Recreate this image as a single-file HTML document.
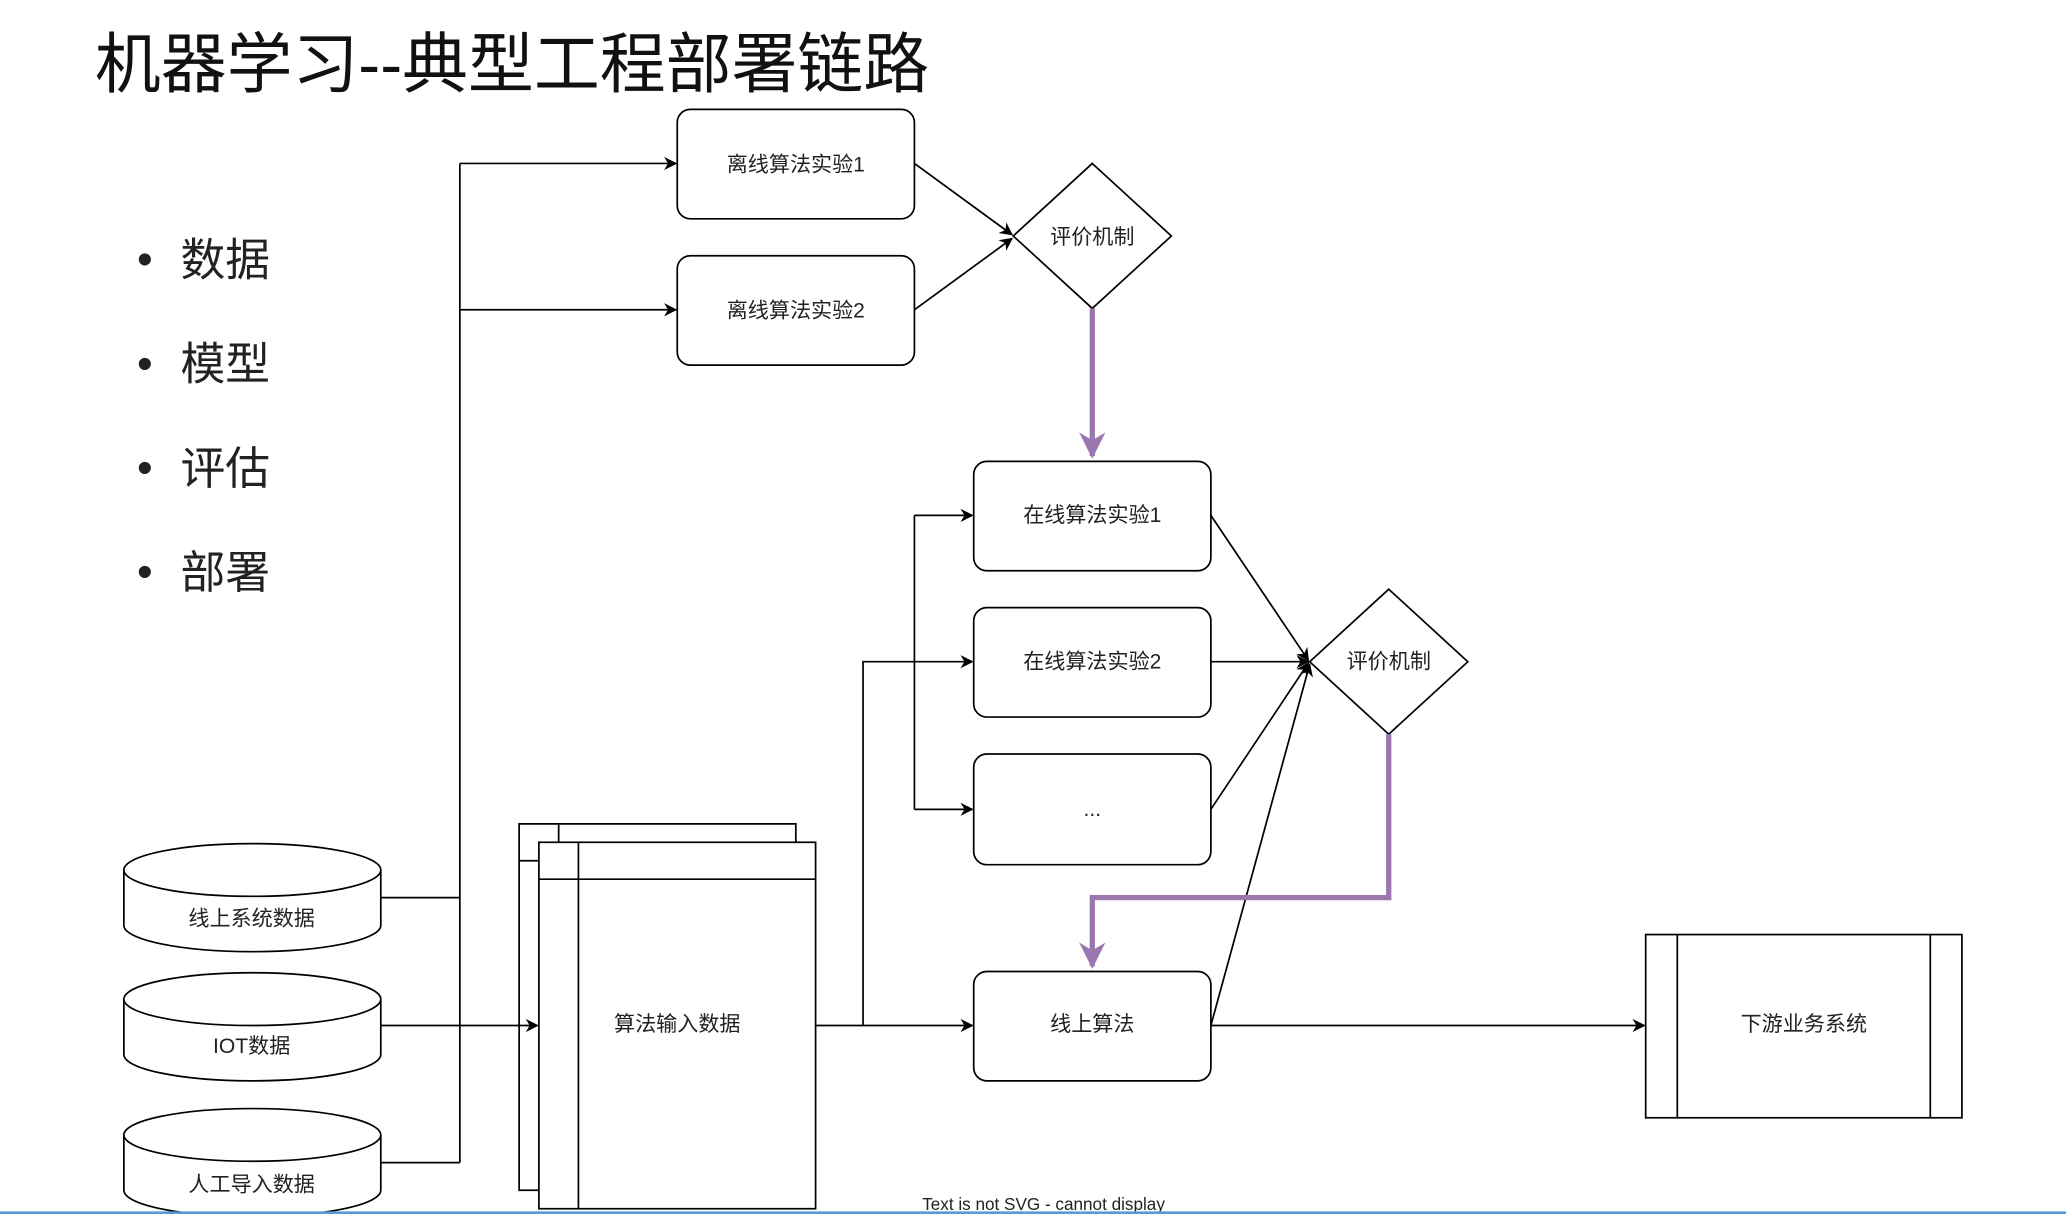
<!DOCTYPE html>
<html><head><meta charset="utf-8"><style>
html,body{margin:0;padding:0;background:#fff;}
svg{display:block;}
text{font-family:"Liberation Sans","Noto Sans CJK SC",sans-serif;fill:#222;}
.s{font-family:"Liberation Serif","Noto Serif CJK SC",serif;font-size:16px;}
</style></head><body>
<svg width="2066" height="1214" viewBox="0 0 1568 921" preserveAspectRatio="none" xmlns="http://www.w3.org/2000/svg">
<defs>
<marker id="a" viewBox="0 0 10 10" refX="9" refY="5" markerWidth="10" markerHeight="10" orient="auto" markerUnits="userSpaceOnUse"><path d="M0,0 L10,5 L0,10 L3,5z" fill="#000"/></marker>
<marker id="p" viewBox="0 0 10 10" refX="9" refY="5" markerWidth="20" markerHeight="20" orient="auto" markerUnits="userSpaceOnUse"><path d="M0,0 L10,5 L0,10 L3,5z" fill="#9b77b0"/></marker>
</defs>
<rect width="1568" height="921" fill="#fff"/>
<text x="72" y="66" style="font-size:50px;fill:#111">机器学习--典型工程部署链路</text>
<g style="font-size:34px;fill:#111">
<text x="104" y="208">•</text><text x="137" y="209">数据</text>
<text x="104" y="287">•</text><text x="137" y="288">模型</text>
<text x="104" y="366">•</text><text x="137" y="367">评估</text>
<text x="104" y="445">•</text><text x="137" y="446">部署</text>
</g>
<g fill="none" stroke="#000" stroke-width="1.3">
<polyline points="289,681 349,681"/>
<polyline points="289,882 349,882"/>
<line x1="349" y1="124" x2="349" y2="882"/>
<line x1="349" y1="124" x2="513" y2="124" marker-end="url(#a)"/>
<line x1="349" y1="235" x2="513" y2="235" marker-end="url(#a)"/>
<line x1="289" y1="778" x2="408" y2="778" marker-end="url(#a)"/>
<line x1="619" y1="778" x2="738" y2="778" marker-end="url(#a)"/>
<polyline points="655,778 655,502 738,502" marker-end="url(#a)"/>
<line x1="694" y1="391" x2="694" y2="614"/>
<line x1="694" y1="391" x2="738" y2="391" marker-end="url(#a)"/>
<line x1="694" y1="614" x2="738" y2="614" marker-end="url(#a)"/>
<line x1="694" y1="124" x2="768" y2="178" marker-end="url(#a)"/>
<line x1="694" y1="235" x2="768" y2="181" marker-end="url(#a)"/>
<line x1="919" y1="391" x2="993" y2="501" marker-end="url(#a)"/>
<line x1="919" y1="502" x2="993" y2="502" marker-end="url(#a)"/>
<line x1="919" y1="614" x2="993" y2="503" marker-end="url(#a)"/>
<line x1="919" y1="778" x2="994" y2="504" marker-end="url(#a)"/>
<line x1="919" y1="778" x2="1248" y2="778" marker-end="url(#a)"/>
<rect x="514" y="83" width="180" height="83" rx="10" fill="#fff"/>
<rect x="514" y="194" width="180" height="83" rx="10" fill="#fff"/>
<rect x="739" y="350" width="180" height="83" rx="10" fill="#fff"/>
<rect x="739" y="461" width="180" height="83" rx="10" fill="#fff"/>
<rect x="739" y="572" width="180" height="84" rx="10" fill="#fff"/>
<rect x="739" y="737" width="180" height="83" rx="10" fill="#fff"/>
<polygon points="829,124 889,179 829,234 769,179" fill="#fff"/>
<polygon points="1054,447 1114,502 1054,557 994,502" fill="#fff"/>
<rect x="1249" y="709" width="240" height="139" fill="#fff"/>
<line x1="1273" y1="709" x2="1273" y2="848"/>
<line x1="1465" y1="709" x2="1465" y2="848"/>
<polyline points="409,903 394,903 394,625 604,625 604,639"/>
<line x1="424" y1="625" x2="424" y2="639"/>
<line x1="394" y1="653" x2="409" y2="653"/>
<rect x="409" y="639" width="210" height="278" fill="#fff"/>
<line x1="439" y1="639" x2="439" y2="917"/>
<line x1="409" y1="667" x2="619" y2="667"/>
<g fill="#fff">
<path d="M94,660 A97.5,20 0 0 1 289,660 L289,702 A97.5,20 0 0 1 94,702 Z"/>
<path d="M94,660 A97.5,20 0 0 0 289,660"/>
<path d="M94,758 A97.5,20 0 0 1 289,758 L289,800 A97.5,20 0 0 1 94,800 Z"/>
<path d="M94,758 A97.5,20 0 0 0 289,758"/>
<path d="M94,861 A97.5,20 0 0 1 289,861 L289,903 A97.5,20 0 0 1 94,903 Z"/>
<path d="M94,861 A97.5,20 0 0 0 289,861"/>
</g>
</g>
<g fill="none" stroke="#9b77b0" stroke-width="4">
<line x1="829" y1="234" x2="829" y2="346" marker-end="url(#p)"/>
<polyline points="1054,557 1054,681 829,681 829,733" marker-end="url(#p)"/>
</g>
<g class="s" text-anchor="middle">
<text x="604" y="130">离线算法实验1</text>
<text x="604" y="241">离线算法实验2</text>
<text x="829" y="185">评价机制</text>
<text x="829" y="396">在线算法实验1</text>
<text x="829" y="507">在线算法实验2</text>
<text x="829" y="619">...</text>
<text x="1054" y="507">评价机制</text>
<text x="829" y="782">线上算法</text>
<text x="1369" y="782">下游业务系统</text>
<text x="514" y="782">算法输入数据</text>
<text x="191" y="702">线上系统数据</text>
<text x="191" y="799">IOT数据</text>
<text x="191" y="904">人工导入数据</text>
</g>
<text x="792" y="918" text-anchor="middle" style="font-size:13px">Text is not SVG - cannot display</text>
<rect x="0" y="919" width="1568" height="2" fill="#5b9bd5"/>
</svg>
</body></html>
